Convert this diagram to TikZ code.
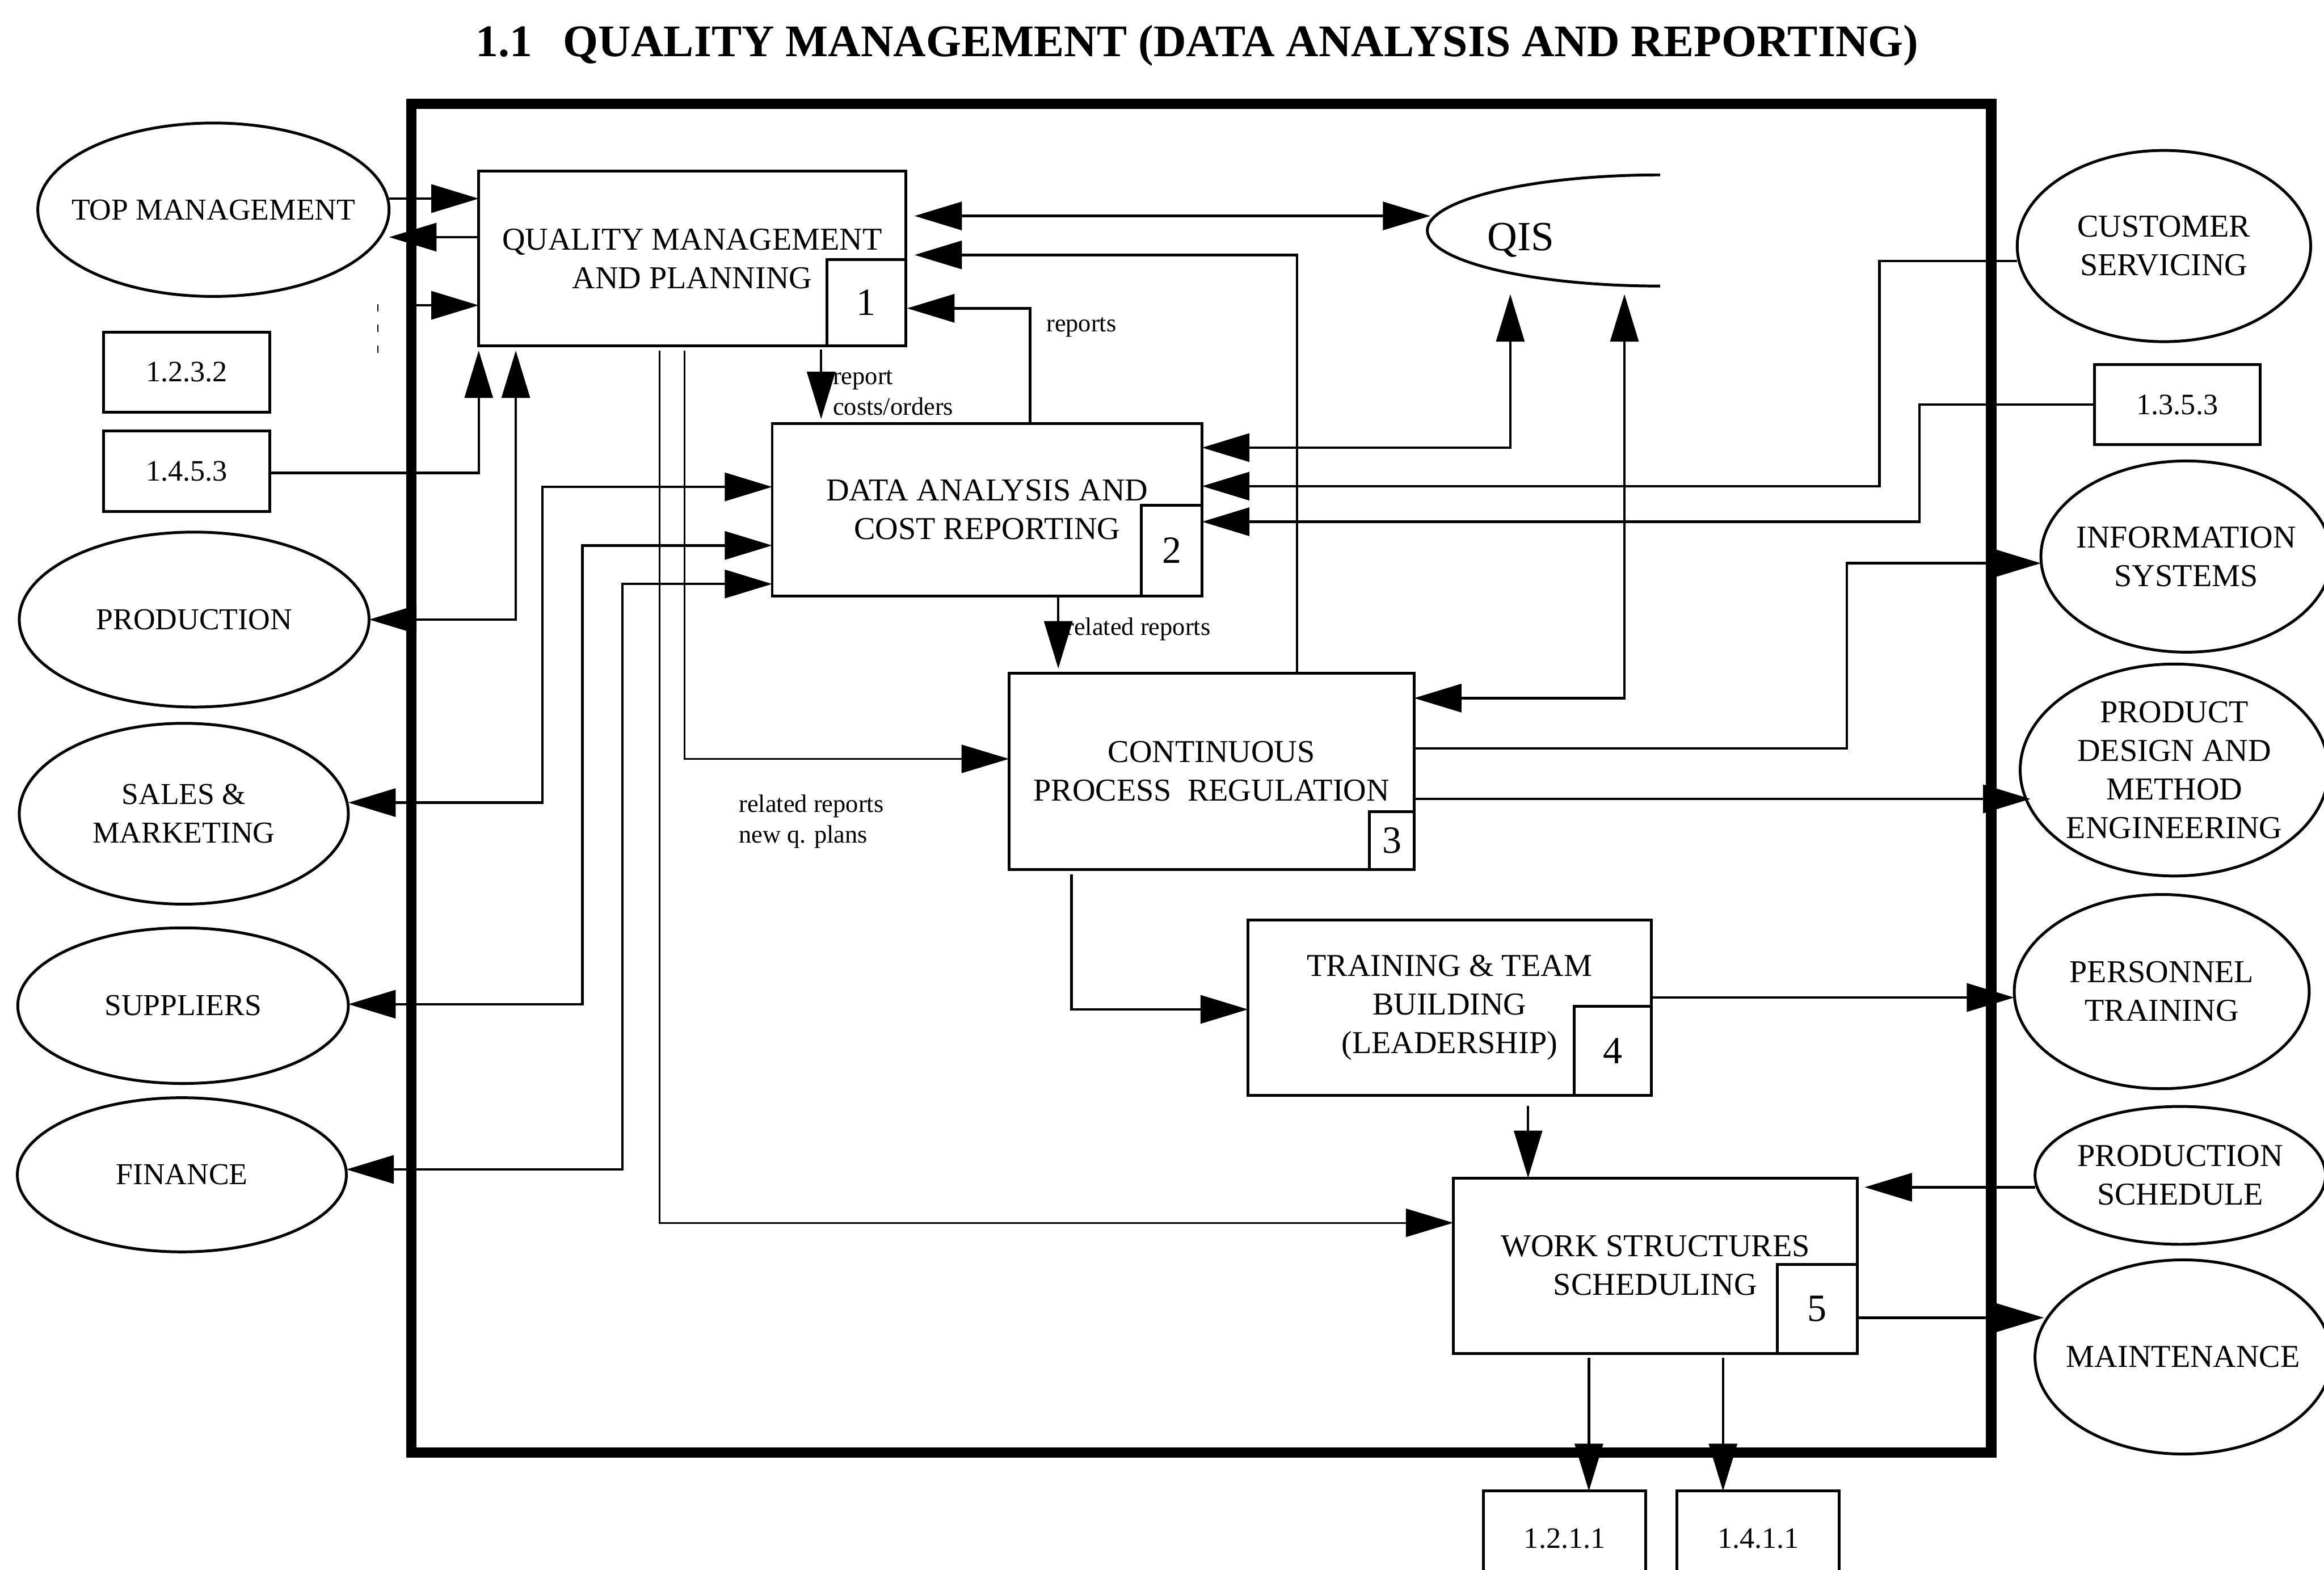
\documentclass[tikz,border=0pt]{standalone}
\usepackage{fontspec}
\setmainfont{Liberation Serif}
\usetikzlibrary{arrows.meta,shapes.geometric}
\begin{document}
\begin{tikzpicture}[x=1pt,y=-1pt,
  every node/.style={inner sep=0pt, outer sep=0pt},
  proc/.style={draw, line width=1.9pt, rectangle, align=center, font=\fontsize{21.5}{26}\selectfont},
  numbox/.style={draw, line width=1.9pt, rectangle, anchor=south east, font=\fontsize{26}{30}\selectfont},
  ext/.style={draw, line width=1.9pt, ellipse},
  etxt/.style={align=center, font=\fontsize{20.5}{26}\selectfont},
  etxtr/.style={align=center, font=\fontsize{21.5}{26}\selectfont},
  refbox/.style={draw, line width=1.9pt, rectangle, font=\fontsize{20}{24}\selectfont},
  lbl/.style={font=\fontsize{17}{20}\selectfont, anchor=base west},
  conn/.style={line width=1.7pt},
  thinconn/.style={line width=1.1pt},
  arr/.style={conn, -{Triangle[length=32pt,width=19pt]}},
  arrt/.style={thinconn, -{Triangle[length=32pt,width=19pt]}},
  arrs/.style={conn, {Triangle[length=32pt,width=19pt]}-{Triangle[length=32pt,width=19pt]}},
]
\useasboundingbox (0,0) rectangle (1568,1059);

% title
\node[font=\fontsize{30.5}{34}\selectfont\bfseries, anchor=base west] (title) at (321,38)
  {1.1\hspace{21pt}QUALITY MANAGEMENT (DATA ANALYSIS AND REPORTING)};

% main frame
\node[draw, line width=7pt, minimum width=1066pt, minimum height=910pt] (frame) at (810.5,525) {};

% external ellipses, left
\node[ext, minimum width=237pt, minimum height=117pt] (tm) at (144,141.5) {};
\node[etxt] (tmT) at (tm.center) {TOP MANAGEMENT};
\node[ext, minimum width=236pt, minimum height=118pt] (prod) at (131,418) {};
\node[etxt] (prodT) at (prod.center) {PRODUCTION};
\node[ext, minimum width=222pt, minimum height=122pt] (sm) at (124,549) {};
\node[etxt] (smT) at (sm.center) {SALES \&\\MARKETING};
\node[ext, minimum width=223pt, minimum height=105pt] (sup) at (123.5,678.5) {};
\node[etxt] (supT) at (sup.center) {SUPPLIERS};
\node[ext, minimum width=222pt, minimum height=104pt] (fin) at (122.7,792.6) {};
\node[etxt] (finT) at (fin.center) {FINANCE};

% external ellipses, right
\node[ext, minimum width=198pt, minimum height=129pt] (cs) at (1460,166) {};
\node[etxtr] (csT) at (cs.center) {CUSTOMER\\SERVICING};
\node[ext, minimum width=196pt, minimum height=129pt] (is) at (1475,375.5) {};
\node[etxtr] (isT) at (is.center) {INFORMATION\\SYSTEMS};
\node[ext, minimum width=208pt, minimum height=143pt] (pde) at (1467,519.5) {};
\node[etxtr] (pdeT) at (pde.center) {PRODUCT\\DESIGN AND\\METHOD\\ENGINEERING};
\node[ext, minimum width=199pt, minimum height=131pt] (pt) at (1458.5,669) {};
\node[etxtr] (ptT) at (pt.center) {PERSONNEL\\TRAINING};
\node[ext, minimum width=196pt, minimum height=93pt] (ps) at (1471,793) {};
\node[etxtr] (psT) at (ps.center) {PRODUCTION\\SCHEDULE};
\node[ext, minimum width=200pt, minimum height=131pt] (mt) at (1473,915.5) {};
\node[etxtr] (mtT) at (mt.center) {MAINTENANCE};

% reference boxes
\node[refbox, minimum width=112pt, minimum height=54pt] (k1232) at (126,251) {1.2.3.2};
\node[refbox, minimum width=112pt, minimum height=54.5pt] (k1453) at (126,318) {1.4.5.3};
\node[refbox, minimum width=112pt, minimum height=54pt] (k1353) at (1469,273) {1.3.5.3};
\node[refbox, minimum width=109.5pt, minimum height=64pt, anchor=north] (k1211) at (1055.7,1006) {1.2.1.1};
\node[refbox, minimum width=109.5pt, minimum height=64pt, anchor=north] (k1411) at (1186.3,1006) {1.4.1.1};

% process boxes
\node[proc, minimum width=288pt, minimum height=118pt] (b1) at (467,174.5) {QUALITY MANAGEMENT\\AND PLANNING};
\node[numbox, minimum width=53pt, minimum height=58.5pt] (n1) at (b1.south east) {1};
\node[proc, minimum width=290pt, minimum height=116.5pt] (b2) at (666,344) {DATA ANALYSIS AND\\COST REPORTING};
\node[numbox, minimum width=41pt, minimum height=61.5pt] (n2) at (b2.south east) {2};
\node[proc, minimum width=273.3pt, minimum height=132.7pt] (b3) at (817.4,520.4) {CONTINUOUS\\PROCESS\ \ REGULATION};
\node[numbox, minimum width=30pt, minimum height=39pt] (n3) at (b3.south east) {3};
\node[proc, minimum width=272pt, minimum height=118.4pt] (b4) at (978,679.8) {TRAINING \& TEAM\\BUILDING\\(LEADERSHIP)};
\node[numbox, minimum width=52pt, minimum height=60pt] (n4) at (b4.south east) {4};
\node[proc, minimum width=272.5pt, minimum height=118.3pt] (b5) at (1116.8,853.9) {WORK STRUCTURES\\SCHEDULING};
\node[numbox, minimum width=54pt, minimum height=60pt] (n5) at (b5.south east) {5};

% QIS store
\draw[line width=1.9pt] (1120,193) arc[start angle=90, end angle=270, x radius=157, y radius=37.5];
\node[font=\fontsize{28}{30}\selectfont, anchor=base] (qis) at (1026,169) {QIS};
\coordinate (qisW) at (965,145.7);
\coordinate (qisB1) at (1019,198.5);
\coordinate (qisB2) at (1096,198.5);
\coordinate (pdeIn) at (1370,539);
\coordinate (mtIn) at (1379,889);

% small labels
\node[lbl] (lreport) at (562,259.5) {report};
\node[lbl] (lcosts) at (562,280) {costs/orders};
\node[lbl] (lreports) at (706,223.6) {reports};
\node[lbl] (lrel) at (719,428.6) {related reports};
\node[lbl] (lrel2) at (498.5,548) {related reports};
\node[lbl] (lnew) at (498.5,568.7) {new q. plans};

% faint dashed mark
\draw[line width=0.8pt, dash pattern=on 5pt off 9pt] (255,205) -- (255,246);

% left-side connectors
\draw[arr] (tm.east |- 0,134) -- (b1.west |- 0,134);
\draw[arr] (b1.west |- 0,160) -- (tm.east |- 0,160);
\draw[arr] (frame.west |- 0,206) -- (b1.west |- 0,206);
\draw[arr, shorten >=3pt] (k1453.east |- 0,319) -| (b1.south west);
\draw[arrs, shorten >=3pt] (prod.east) -| (348,0 |- b1.south);
\draw[arrs] (sm.east |- 0,541.5) -- (366,541.5) |- (b2.west |- 0,328.5);
\draw[arrs] (sup.east |- 0,677.5) -- (393,677.5) |- (b2.west |- 0,368);
\draw[arrs] (fin.east |- 0,789) -- (420,789) |- (b2.west |- 0,394);

% internal connectors
\draw[arrt] (462,236.5) |- (b3.west |- 0,512);
\draw[arrt] (445,236.5) |- (b5.west |- 0,825);
\draw[arr, shorten >=3pt] (554,236) -- (554,0 |- b2.north);
\draw[arr, shorten >=1pt] (695,0 |- b2.north) |- (b1.east |- 0,208);
\draw[arr, shorten >=3pt] (714,0 |- b2.south) -- (714,0 |- b3.north);
\draw[arr, shorten >=6pt] (875,0 |- b3.north) |- (b1.east |- 0,172);
\draw[arrs, shorten <=6pt] (b1.east |- 0,145.7) -- (qisW);
\draw[arrs] (b2.east |- 0,302) -| (qisB1);
\draw[arrs] (b3.east |- 0,471) -| (qisB2);
\draw[arr] (723,590) |- (b4.west |- 0,681);
\draw[arr] (1031,746) -- (1031,0 |- b5.north);

% right-side connectors
\draw[arr] (cs.west |- 0,176) -- (1268,176) |- (b2.east |- 0,328);
\draw[arr] (k1353.west) -- (1295,273) |- (b2.east |- 0,352);
\draw[arr] (b3.east |- 0,505) -- (1246,505) |- (is.west |- 0,380);
\draw[arr] (b3.east |- 0,539) -- (pdeIn);
\draw[arr] (b4.east |- 0,673) -- (pt.west |- 0,673);
\draw[arr, shorten >=5pt] (ps.west |- 0,801) -- (b5.east |- 0,801);
\draw[arr] (b5.east |- 0,889) -- (mtIn);

% outputs at the bottom
\draw[arr] (1072,916) -- (1072,0 |- k1211.north);
\draw[arr] (1162.5,916) -- (1162.5,0 |- k1411.north);
\end{tikzpicture}
\end{document}
